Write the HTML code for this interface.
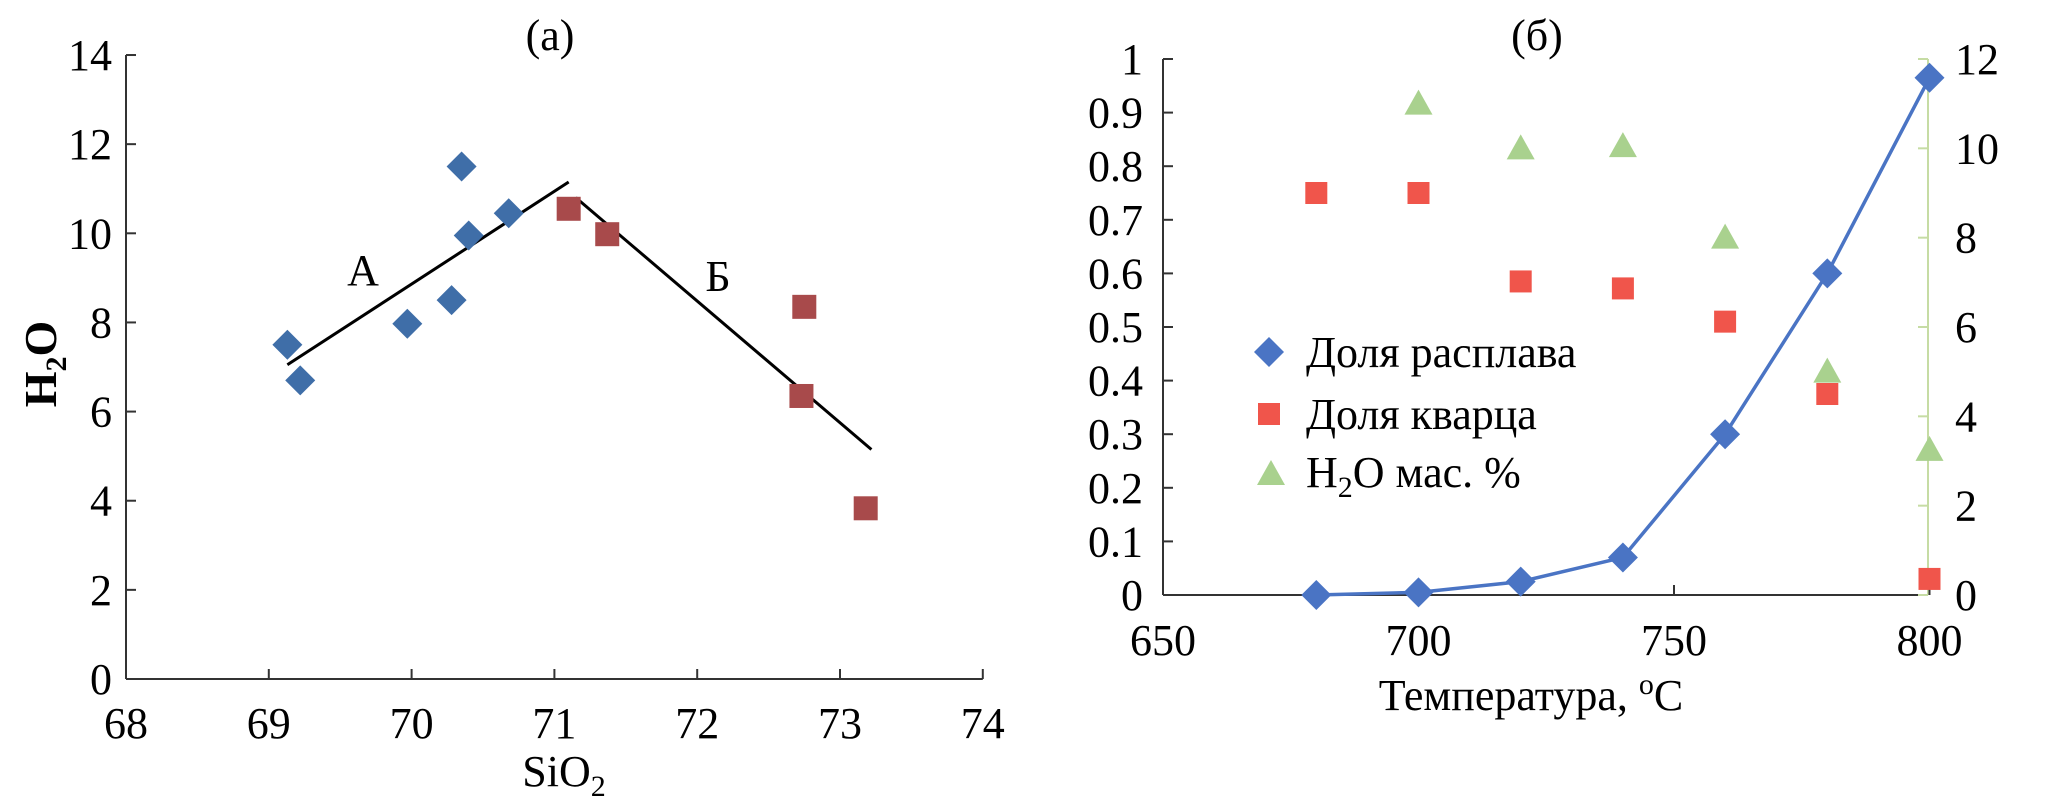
<!DOCTYPE html>
<html><head><meta charset="utf-8"><style>
html,body{margin:0;padding:0;background:#fff;}
svg{display:block;}
text,tspan{font-family:"Liberation Serif",serif;}
</style></head><body>
<svg id="s" width="2067" height="801" viewBox="0 0 2067 801" xmlns="http://www.w3.org/2000/svg" font-family="Liberation Serif, serif">
<g id="ca"></g>
<g id="cb"></g>
</svg>
<script>
// Chart (a)
const aXTicks=[68,69,70,71,72,73,74];
const aYTicks=[0,2,4,6,8,10,12,14];
const aBlueX=[69.13,69.22,69.97,70.28,70.35,70.40,70.68];
const aBlueY=[7.5,6.7,7.97,8.5,11.5,9.95,10.45];
const aRedX=[71.10,71.37,72.75,72.73,73.18];
const aRedY=[10.55,9.98,8.35,6.35,3.83];
const aLineAX=[69.13,71.10]; const aLineAY=[7.05,11.15];
const aLineBX=[71.15,73.22]; const aLineBY=[10.8,5.15];
// Chart (б)
const bXTicks=[650,700,750,800];
const bYTicks=[0,0.1,0.2,0.3,0.4,0.5,0.6,0.7,0.8,0.9,1];
const bY2Ticks=[0,2,4,6,8,10,12];
const bT=[680,700,720,740,760,780,800];
const bMelt=[0,0.005,0.025,0.07,0.3,0.6,0.965];
const bQuartz=[0.75,0.75,0.585,0.572,0.51,0.375,0.03];
const bWT=[700,720,740,760,780,800];
const bWater=[11,10,10.05,8,5,3.25];

const NS="http://www.w3.org/2000/svg";
function mk(p,tag,at,txt){const e=document.createElementNS(NS,tag);for(const k in at)e.setAttribute(k,at[k]);if(tag==='text')e.setAttribute('font-family','Liberation Serif, serif');if(txt!==undefined)e.textContent=txt;p.appendChild(e);return e;}
function diamond(cx,cy,r){return `${cx},${cy-r} ${cx+r},${cy} ${cx},${cy+r} ${cx-r},${cy}`;}

// ---- chart a ----
const A=document.getElementById('ca');
const ax=v=>126+(v-68)*142.8;
const ay=v=>679-v*44.57;
let e;
e=mk(A,'line',{x1:126,y1:ay(14),x2:126,y2:679,stroke:'#333','stroke-width':2});


e=mk(A,'line',{x1:126,y1:679,x2:ax(74),y2:679,stroke:'#333','stroke-width':2});


aYTicks.forEach(v=>{
  mk(A,'line',{x1:126,y1:ay(v),x2:136,y2:ay(v),stroke:'#333','stroke-width':2});
  e=mk(A,'text',{x:112,y:ay(v)+15,'text-anchor':'end','font-size':44},v);
  
  
});
aXTicks.forEach(v=>{
  mk(A,'line',{x1:ax(v),y1:679,x2:ax(v),y2:669,stroke:'#333','stroke-width':2});
  e=mk(A,'text',{x:ax(v),y:738,'text-anchor':'middle','font-size':44},v);
  
  
});
e=mk(A,'line',{x1:ax(aLineAX[0]),y1:ay(aLineAY[0]),x2:ax(aLineAX[1]),y2:ay(aLineAY[1]),stroke:'#000','stroke-width':3});


e=mk(A,'line',{x1:ax(aLineBX[0]),y1:ay(aLineBY[0]),x2:ax(aLineBX[1]),y2:ay(aLineBY[1]),stroke:'#000','stroke-width':3});


aBlueX.forEach((x,i)=>{
  e=mk(A,'polygon',{points:diamond(ax(x),ay(aBlueY[i]),15),fill:'#3f6ea8'});
  
  
});
aRedX.forEach((x,i)=>{
  e=mk(A,'rect',{x:ax(x)-12,y:ay(aRedY[i])-12,width:24,height:24,fill:'#a84a4b'});
  
  
});
e=mk(A,'text',{x:363,y:285,'text-anchor':'middle','font-size':44},'А');


e=mk(A,'text',{x:718,y:291,'text-anchor':'middle','font-size':44},'Б');


e=mk(A,'text',{x:550,y:50,'text-anchor':'middle','font-size':44},'(a)');


e=mk(A,'text',{x:564,y:786,'text-anchor':'middle','font-size':44});
e.innerHTML='SiO<tspan font-size="30" dy="10">2</tspan>';


e=mk(A,'text',{x:0,y:0,'text-anchor':'middle','font-size':46,'font-weight':'bold',transform:'translate(56,364) rotate(-90)'});
e.innerHTML='H<tspan font-size="30" dy="10">2</tspan><tspan dy="-10">O</tspan>';



// ---- chart b ----
const B=document.getElementById('cb');
const bx=v=>1163+(v-650)*5.11;
const by=v=>595-v*536;
const by2=v=>595-v*(536/12);
e=mk(B,'line',{x1:1163,y1:by(1),x2:1163,y2:595,stroke:'#333','stroke-width':2});


e=mk(B,'line',{x1:1928,y1:by2(12),x2:1928,y2:595,stroke:'#c6dca4','stroke-width':2});


e=mk(B,'line',{x1:1163,y1:595,x2:1928,y2:595,stroke:'#333','stroke-width':2});


bYTicks.forEach(v=>{
  mk(B,'line',{x1:1163,y1:by(v),x2:1173,y2:by(v),stroke:'#333','stroke-width':2});
  e=mk(B,'text',{x:1143,y:by(v)+15,'text-anchor':'end','font-size':44},v);
  
  
});
bY2Ticks.forEach(v=>{
  mk(B,'line',{x1:1918,y1:by2(v),x2:1928,y2:by2(v),stroke:'#c6dca4','stroke-width':2});
  e=mk(B,'text',{x:1955,y:by2(v)+15,'text-anchor':'start','font-size':44},v);
  
  
});
bXTicks.forEach(v=>{
  mk(B,'line',{x1:bx(v),y1:595,x2:bx(v),y2:585,stroke:'#333','stroke-width':2});
  e=mk(B,'text',{x:bx(v),y:655,'text-anchor':'middle','font-size':44},v);
  
  
});
e=mk(B,'polyline',{points:bT.map((t,i)=>bx(t)+','+by(bMelt[i])).join(' '),fill:'none',stroke:'#4a74c4','stroke-width':3.5});


bT.forEach((t,i)=>{
  e=mk(B,'polygon',{points:diamond(bx(t),by(bMelt[i]),15),fill:'#4a74c4'});
  
  
});
bT.forEach((t,i)=>{
  e=mk(B,'rect',{x:bx(t)-11,y:by(bQuartz[i])-11,width:22,height:22,fill:'#f0554b'});
  
  
});
bWT.forEach((t,i)=>{
  const cx=bx(t),cy=by2(bWater[i]);
  e=mk(B,'polygon',{points:`${cx},${cy-14} ${cx+14},${cy+11} ${cx-14},${cy+11}`,fill:'#a9d18e'});
  
  
});
// legend
const L=mk(B,'g',{});


e=mk(L,'polygon',{points:diamond(1269,352,15),fill:'#4a74c4'});


e=mk(L,'text',{x:1306,y:367,'font-size':44},'Доля расплава');


e=mk(L,'rect',{x:1258,y:403,width:22,height:22,fill:'#f0554b'});


e=mk(L,'text',{x:1306,y:429,'font-size':44},'Доля кварца');


e=mk(L,'polygon',{points:'1271,460 1285,485 1257,485',fill:'#a9d18e'});


e=mk(L,'text',{x:1306,y:487,'font-size':44});
e.innerHTML='H<tspan font-size="30" dy="10">2</tspan><tspan dy="-10">O мас. %</tspan>';


e=mk(B,'text',{x:1537,y:50,'text-anchor':'middle','font-size':44},'(б)');


e=mk(B,'text',{x:1531,y:710,'text-anchor':'middle','font-size':44});
e.innerHTML='Температура, <tspan font-size="30" dy="-16">o</tspan><tspan dy="16">C</tspan>';


</script>
</body></html>
